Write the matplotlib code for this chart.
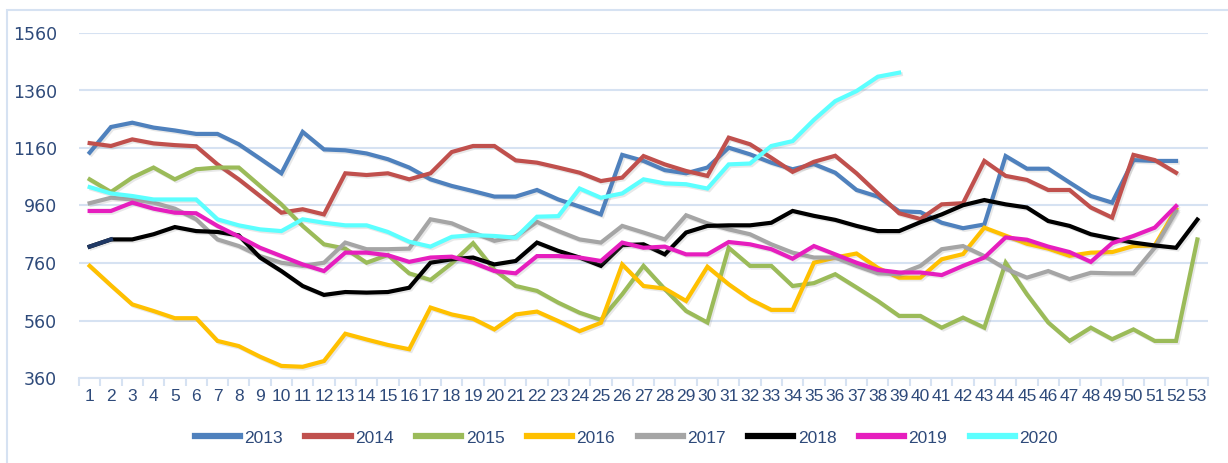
import numpy as np
import matplotlib
matplotlib.use("Agg")
import matplotlib.pyplot as plt
import matplotlib.patheffects as pe
from matplotlib.patches import Rectangle

plt.rcParams['font.family'] = ['DejaVu Sans']

weeks = np.arange(1, 54)
nan = np.nan

y2013 = [1144, 1233, 1248, 1231, 1221, 1209, 1209, 1173, 1123, 1072, 1216, 1155, 1152, 1141, 1121, 1092,
         1051, 1028, 1010, 991, 991, 1014, 981, 956, 929, 1136, 1115, 1083, 1072, 1092, 1161, 1138, 1109,
         1086, 1104, 1074, 1014, 991, 940, 937, 900, 881, 894, 1132, 1088, 1088, 1040, 993, 970, 1118,
         1115, 1115, nan]
y2014 = [1177, 1167, 1190, 1176, 1170, 1166, 1103, 1051, 993, 935, 947, 929, 1072, 1066, 1072, 1051,
         1072, 1146, 1167, 1167, 1117, 1109, 1092, 1074, 1045, 1057, 1132, 1103, 1080, 1063, 1196, 1173,
         1126, 1077, 1112, 1133, 1072, 1002, 933, 913, 964, 968, 1115, 1063, 1049, 1014, 1014, 953, 918,
         1136, 1118, 1074, nan]
y2015 = [1051, 1007, 1057, 1092, 1051, 1086, 1092, 1092, 1028, 964, 889, 825, 810, 761, 788, 724,
         701, 759, 829, 736, 680, 663, 622, 587, 562, 651, 750, 669, 593, 553, 813, 750, 750, 680, 690,
         721, 675, 628, 576, 576, 535, 570, 535, 761, 651, 553, 489, 535, 495, 529, 489, 489, 842]
y2016 = [750, 682, 616, 593, 568, 568, 489, 471, 434, 402, 399, 419, 514, 494, 475, 460,
         605, 581, 566, 529, 581, 591, 558, 523, 552, 755, 680, 671, 628, 747, 686, 634, 597, 597, 761,
         779, 793, 743, 709, 709, 773, 791, 883, 855, 827, 810, 785, 796, 798, 819, 821, 947, nan]
y2017 = [968, 987, 981, 970, 949, 912, 842, 819, 784, 761, 750, 761, 831, 808, 808, 810,
         912, 898, 866, 837, 852, 903, 871, 842, 831, 889, 866, 842, 926, 898, 877, 860, 825, 796, 779,
         779, 750, 724, 721, 750, 808, 819, 784, 740, 709, 732, 704, 726, 724, 724, 813, 940, nan]
y2018 = [817, 842, 842, 860, 885, 871, 868, 856, 779, 732, 680, 649, 659, 657, 659, 674,
         761, 773, 779, 755, 767, 831, 802, 779, 750, 822, 825, 790, 866, 889, 891, 891, 900, 941, 924,
         910, 889, 871, 871, 902, 929, 961, 979, 964, 953, 906, 889, 860, 845, 831, 821, 813, 911]
y2019 = [941, 941, 970, 949, 935, 933, 889, 852, 813, 784, 755, 732, 796, 796, 787, 764,
         779, 782, 761, 732, 724, 784, 784, 779, 767, 831, 813, 817, 790, 790, 833, 825, 808, 775, 819,
         790, 761, 736, 727, 727, 718, 750, 779, 849, 841, 817, 798, 764, 829, 854, 883, 958, nan]
y2020 = [1024, 1002, 993, 981, 981, 981, 912, 891, 877, 871, 912, 900, 891, 891, 868, 834,
         817, 851, 857, 854, 848, 921, 923, 1019, 987, 1002, 1051, 1037, 1034, 1019, 1103, 1106, 1167,
         1184, 1258, 1323, 1358, 1408, 1422] + [nan] * 14

series = [("2013", y2013, "#4F81BD"), ("2014", y2014, "#C0504D"), ("2015", y2015, "#9BBB59"),
          ("2016", y2016, "#FFC000"), ("2017", y2017, "#A5A5A5"), ("2018", y2018, "#000000"),
          ("2019", y2019, "#E61EBE"), ("2020", y2020, "#5CFFFF")]

fig = plt.figure(figsize=(12.28, 4.63), dpi=100)
ax = fig.add_axes([79 / 1228, 1 - 378 / 463, (1208 - 79) / 1228, (378 - 33) / 463])

shadow = [pe.SimpleLineShadow(offset=(1.2, -1.2), alpha=0.18, shadow_color='gray'), pe.Normal()]
for name, vals, col in series:
    ax.plot(weeks, vals, color=col, lw=3.0, label=name, solid_joinstyle='miter', path_effects=shadow)
# first segment of 2018 appears dark navy in the source
ax.plot(weeks[:2], y2018[:2], color='#1F3864', lw=3.0)

grid_c = '#D6E2F2'
txt_c = '#2E4A7A'
ax.set_xlim(0.5, 53.5)
ax.set_ylim(360, 1560)
ax.set_yticks(np.arange(360, 1561, 200))
ax.yaxis.grid(True, color=grid_c, lw=1.5)
ax.set_axisbelow(True)
for s in ['top', 'right', 'left']:
    ax.spines[s].set_visible(False)
ax.spines['bottom'].set_color(grid_c)
ax.spines['bottom'].set_linewidth(1.5)

ax.set_xticks(np.arange(0.5, 54, 1))
ax.set_xticklabels([])
ax.set_xticks(weeks, minor=True)
ax.set_xticklabels([str(w) for w in weeks], minor=True, family='Liberation Sans', fontsize=12.5)
ax.tick_params(axis='x', which='major', length=6, width=1.5, color=grid_c)
ax.tick_params(axis='x', which='minor', length=0, pad=8, labelcolor=txt_c)
ax.tick_params(axis='y', length=0, pad=16, labelsize=12.5, labelcolor=txt_c)

fig.legend(loc='center', bbox_to_anchor=(0.51, 0.054), ncol=8, frameon=False,
           prop={'family': 'Liberation Sans', 'size': 12.5},
           handlelength=2.6, handletextpad=0.25, columnspacing=1.3, labelcolor=txt_c)
for line in fig.legends[0].get_lines():
    line.set_linewidth(4.5)
    line.set_path_effects([])

fig.patches.append(Rectangle((7 / 1228, -0.1), 1.1, 1.1 - 10 / 463, transform=fig.transFigure,
                             fill=False, edgecolor=grid_c, lw=1.5))

fig.savefig('out.png', dpi=100)
